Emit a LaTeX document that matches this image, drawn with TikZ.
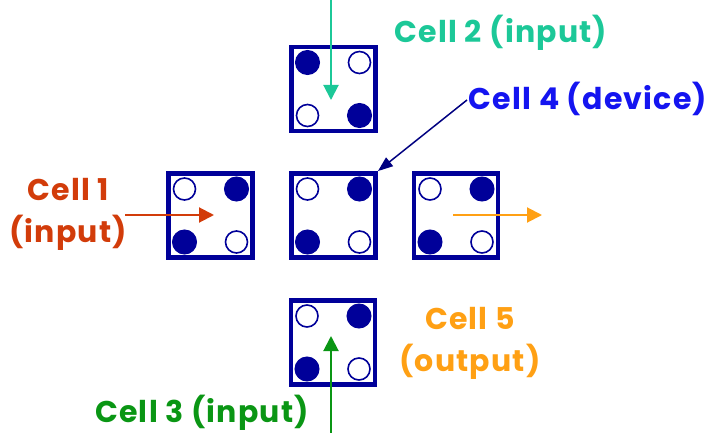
\documentclass[tikz,border=0pt]{standalone}
\usepackage{fontspec}
\setmainfont{Poppins}
\usetikzlibrary{arrows.meta}
\definecolor{navy}{RGB}{0,0,153}
\definecolor{navyline}{RGB}{0,0,128}
\definecolor{tealc}{RGB}{28,200,152}
\definecolor{redc}{RGB}{210,60,10}
\definecolor{orangec}{RGB}{255,160,20}
\definecolor{greenc}{RGB}{10,150,20}
\definecolor{bluec}{RGB}{20,20,240}
\tikzset{
  cellbox/.style={draw=navy, line width=4.8pt, fill=white, minimum size=84pt, inner sep=0pt},
  dotfull/.style={circle, fill=navy, draw=navy, line width=1pt, minimum size=24pt, inner sep=0pt},
  dotempty/.style={circle, fill=white, draw=navy, line width=1.6pt, minimum size=22pt, inner sep=0pt},
  lab/.style={font=\bfseries\fontsize{30}{42}\selectfont\addfontfeatures{LetterSpace=4}, inner sep=0pt, align=center},
  flow/.style={line width=2pt, -{Triangle[length=15pt,width=15pt]}},
}
\begin{document}
\begin{tikzpicture}[x=1pt,y=-1pt]
\useasboundingbox (0,0) rectangle (711,433);
% cell 2 (top)
\node[cellbox] (c2) at (333.5,89) {};
\node[dotfull]  (c2tl) at (307.5,62.5) {};
\node[dotempty] (c2tr) at (359.5,62.5) {};
\node[dotempty] (c2bl) at (307.5,115.5) {};
\node[dotfull]  (c2br) at (359.5,115.5) {};
% cell 1 (left)
\node[cellbox] (c1) at (210.5,215.5) {};
\node[dotempty] (c1tl) at (184.5,189) {};
\node[dotfull]  (c1tr) at (236.5,189) {};
\node[dotfull]  (c1bl) at (184.5,242) {};
\node[dotempty] (c1br) at (236.5,242) {};
% cell 4 (centre)
\node[cellbox] (c4) at (333.5,215.5) {};
\node[dotempty] (c4tl) at (307.5,189) {};
\node[dotfull]  (c4tr) at (359.5,189) {};
\node[dotfull]  (c4bl) at (307.5,242) {};
\node[dotempty] (c4br) at (359.5,242) {};
% cell 5 (right)
\node[cellbox] (c5) at (456,215.5) {};
\node[dotempty] (c5tl) at (430,189) {};
\node[dotfull]  (c5tr) at (482,189) {};
\node[dotfull]  (c5bl) at (430,242) {};
\node[dotempty] (c5br) at (482,242) {};
% cell 3 (bottom)
\node[cellbox] (c3) at (333,342.5) {};
\node[dotempty] (c3tl) at (307,316) {};
\node[dotfull]  (c3tr) at (359,316) {};
\node[dotfull]  (c3bl) at (307,369) {};
\node[dotempty] (c3br) at (359,369) {};
% labels
\node[lab, text=tealc, anchor=base] (l2) at (501,43) {Cell 2 (input)};
\node[lab, text=bluec, anchor=base] (l4) at (588,110) {Cell 4 (device)};
\node[lab, text=redc] (l1) at (68,214) {Cell 1\\(input)};
\node[lab, text=orangec] (l5) at (470,343) {Cell 5\\(output)};
\node[lab, text=greenc, anchor=base] (l3) at (202,422) {Cell 3 (input)};
% arrows
\coordinate (a2s) at (331,0);
\coordinate (a2e) at (331,100);
\draw[flow, draw=tealc, fill=tealc] (a2s) -- (a2e);
\coordinate (a1s) at (125,215);
\coordinate (a1e) at (214,215);
\draw[flow, draw=redc, fill=redc] (a1s) -- (a1e);
\coordinate (a5s) at (453,215);
\coordinate (a5e) at (542,215);
\draw[flow, draw=orangec, fill=orangec] (a5s) -- (a5e);
\coordinate (a3s) at (331,433);
\coordinate (a3e) at (331,336);
\draw[flow, draw=greenc, fill=greenc] (a3s) -- (a3e);
\coordinate (a4s) at (467,100);
\draw[line width=1.5pt, draw=navyline, -{Triangle[length=15pt,width=11pt]}] (a4s) -- (c4.north east);
\end{tikzpicture}
\end{document}
